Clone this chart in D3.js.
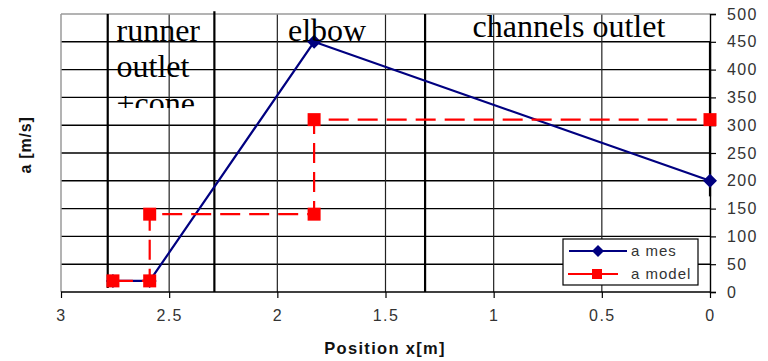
<!DOCTYPE html>
<html>
<head>
<meta charset="utf-8">
<script src="https://cdn.jsdelivr.net/npm/d3@7"></script>
<style>
  body { margin: 0; background: #fff; }
  svg { display: block; }
</style>
</head>
<body>
<svg width="768" height="361"></svg>
<script>
// values
let mesX = [2.76, 2.59, 1.83, 0];
let mesY = [20, 20, 450, 200];
let modelX = [2.76, 2.59, 2.59, 1.83, 1.83, 0];
let modelY = [20, 20, 140, 140, 310, 310];
let xTicks = [3, 2.5, 2, 1.5, 1, 0.5, 0];
let yTicks = [0, 50, 100, 150, 200, 250, 300, 350, 400, 450, 500];
let seriesNames = ["a mes", "a model"];
// section divider lines: x, from, to
let dividerX = [2.784, 2.291, 1.317, 0];
let dividerTop = [500, 505, 500, 450];
let dividerBottom = [7, 0, 0, 172];

let margin = {top: 14, right: 58, bottom: 69, left: 61},
    width = 768 - margin.left - margin.right,
    height = 361 - margin.top - margin.bottom;

let xdim = d3.scaleLinear().domain([3, 0]).range([0, width]);
let ydim = d3.scaleLinear().domain([0, 500]).range([height, 0]);

let svg = d3.select("svg");
let chart = svg.append("g").attr("transform", "translate(" + margin.left + "," + margin.top + ")");

// horizontal grid
chart.selectAll(".hgrid").data(yTicks.filter(function(d) { return d > 0 && d < 500; }))
    .enter().append("line").attr("class", "hgrid")
    .attr("x1", 0).attr("x2", width)
    .attr("y1", function(d) { return ydim(d); }).attr("y2", function(d) { return ydim(d); })
    .style("stroke", "#000").style("stroke-width", 1.4);

// vertical grid
chart.selectAll(".vgrid").data(xTicks.filter(function(d) { return d > 0 && d < 3; }))
    .enter().append("line").attr("class", "vgrid")
    .attr("y1", 0).attr("y2", height)
    .attr("x1", function(d) { return xdim(d); }).attr("x2", function(d) { return xdim(d); })
    .style("stroke", "#222").style("stroke-width", 1.2);

// gray frame top / left
chart.append("line").attr("x1", 0).attr("x2", width).attr("y1", 0).attr("y2", 0)
    .style("stroke", "#9a9a9a").style("stroke-width", 1.5);
chart.append("line").attr("x1", 0).attr("x2", 0).attr("y1", 0).attr("y2", height)
    .style("stroke", "#9a9a9a").style("stroke-width", 1.5);

// axes
let xAxis = chart.append("g").attr("transform", "translate(0," + height + ")")
    .call(d3.axisBottom(xdim).tickValues(xTicks).tickSize(6).tickPadding(12)
        .tickFormat(function(d) { return d; }));
let yAxis = chart.append("g").attr("transform", "translate(" + width + ",0)")
    .call(d3.axisRight(ydim).tickValues(yTicks).tickSize(6).tickPadding(11));
[xAxis, yAxis].forEach(function(a) {
    a.select(".domain").style("stroke", "#000").style("stroke-width", 1.4);
    a.selectAll(".tick line").style("stroke", "#000").style("stroke-width", 1.2);
    a.selectAll("text").style("font-family", "Liberation Sans, Arial, sans-serif")
        .style("font-size", "16px").style("letter-spacing", "1.4px").style("fill", "#333");
});
xAxis.select(".domain").attr("d", "M0,0H" + width);

// divider lines
chart.selectAll(".divider").data(dividerX).enter().append("line").attr("class", "divider")
    .attr("x1", function(d) { return xdim(d); }).attr("x2", function(d) { return xdim(d); })
    .attr("y1", function(d, i) { return ydim(dividerTop[i]); })
    .attr("y2", function(d, i) { return ydim(dividerBottom[i]); })
    .style("stroke", "#000").style("stroke-width", 2.2);

// section labels
svg.append("clipPath").attr("id", "cone-clip").append("rect")
    .attr("x", 0).attr("y", 0).attr("width", 768).attr("height", 108);
let labels = svg.append("g").attr("clip-path", "url(#cone-clip)")
    .style("font-family", "Liberation Serif, Times New Roman, serif").style("font-size", "32px").style("fill", "#000");
labels.append("text").attr("x", 116.5).attr("y", 40.5).text("runner");
labels.append("text").attr("x", 116.5).attr("y", 77).text("outlet");
labels.append("text").attr("x", 116.5).attr("y", 114).text("+cone");
labels.append("text").attr("x", 288).attr("y", 40.5).text("elbow");
labels.append("text").attr("x", 472.5).attr("y", 36.5).text("channels outlet");

// series
let mesData = mesX.map(function(d, i) { return [d, mesY[i]]; });
let modelData = modelX.map(function(d, i) { return [d, modelY[i]]; });
let line = d3.line().x(function(d) { return xdim(d[0]); }).y(function(d) { return ydim(d[1]); });

chart.append("path").datum(mesData).attr("d", line)
    .style("fill", "none").style("stroke", "#000080").style("stroke-width", 2.2);
chart.selectAll(".mes").data(mesData).enter().append("path").attr("class", "mes")
    .attr("transform", function(d) { return "translate(" + xdim(d[0]) + "," + ydim(d[1]) + ")"; })
    .attr("d", "M0,-7L7,0L0,7L-7,0Z").style("fill", "#000080");

chart.append("path").datum(modelData).attr("d", line)
    .style("fill", "none").style("stroke", "#ff0000").style("stroke-width", 2.2)
    .style("stroke-dasharray", "20,9");
chart.selectAll(".model").data(modelData).enter().append("rect").attr("class", "model")
    .attr("x", function(d) { return xdim(d[0]) - 6.5; })
    .attr("y", function(d) { return ydim(d[1]) - 6.5; })
    .attr("width", 13).attr("height", 13).style("fill", "#ff0000");

// axis titles
svg.append("text").attr("x", 385).attr("y", 354).style("text-anchor", "middle")
    .style("font-family", "Liberation Sans, Arial, sans-serif").style("font-weight", "bold")
    .style("font-size", "16.5px").style("letter-spacing", "1.3px").style("fill", "#111")
    .text("Position x[m]");
svg.append("text").attr("transform", "translate(31,145) rotate(-90)").style("text-anchor", "middle")
    .style("font-family", "Liberation Sans, Arial, sans-serif").style("font-weight", "bold")
    .style("font-size", "16px").style("letter-spacing", "0.8px").style("fill", "#111")
    .text("a [m/s]");

// legend
let legend = svg.append("g").attr("transform", "translate(563,239)");
legend.append("rect").attr("width", 135).attr("height", 46)
    .style("fill", "#fff").style("stroke", "#000").style("stroke-width", 1.2);
legend.append("line").attr("x1", 6).attr("x2", 64).attr("y1", 12).attr("y2", 12)
    .style("stroke", "#000080").style("stroke-width", 2);
legend.append("path").attr("transform", "translate(35,12)").attr("d", "M0,-6L6,0L0,6L-6,0Z").style("fill", "#000080");
legend.append("line").attr("x1", 5).attr("x2", 55).attr("y1", 35).attr("y2", 35)
    .style("stroke", "#ff0000").style("stroke-width", 2);
legend.append("rect").attr("x", 29).attr("y", 30).attr("width", 10).attr("height", 10).style("fill", "#ff0000");
legend.selectAll(".ltext").data(seriesNames).enter().append("text").attr("class", "ltext")
    .attr("x", 68).attr("y", function(d, i) { return 17 + i * 23; })
    .style("font-family", "Liberation Sans, Arial, sans-serif").style("font-size", "15px")
    .style("letter-spacing", "1px").style("fill", "#333")
    .text(function(d) { return d; });
</script>
</body>
</html>
